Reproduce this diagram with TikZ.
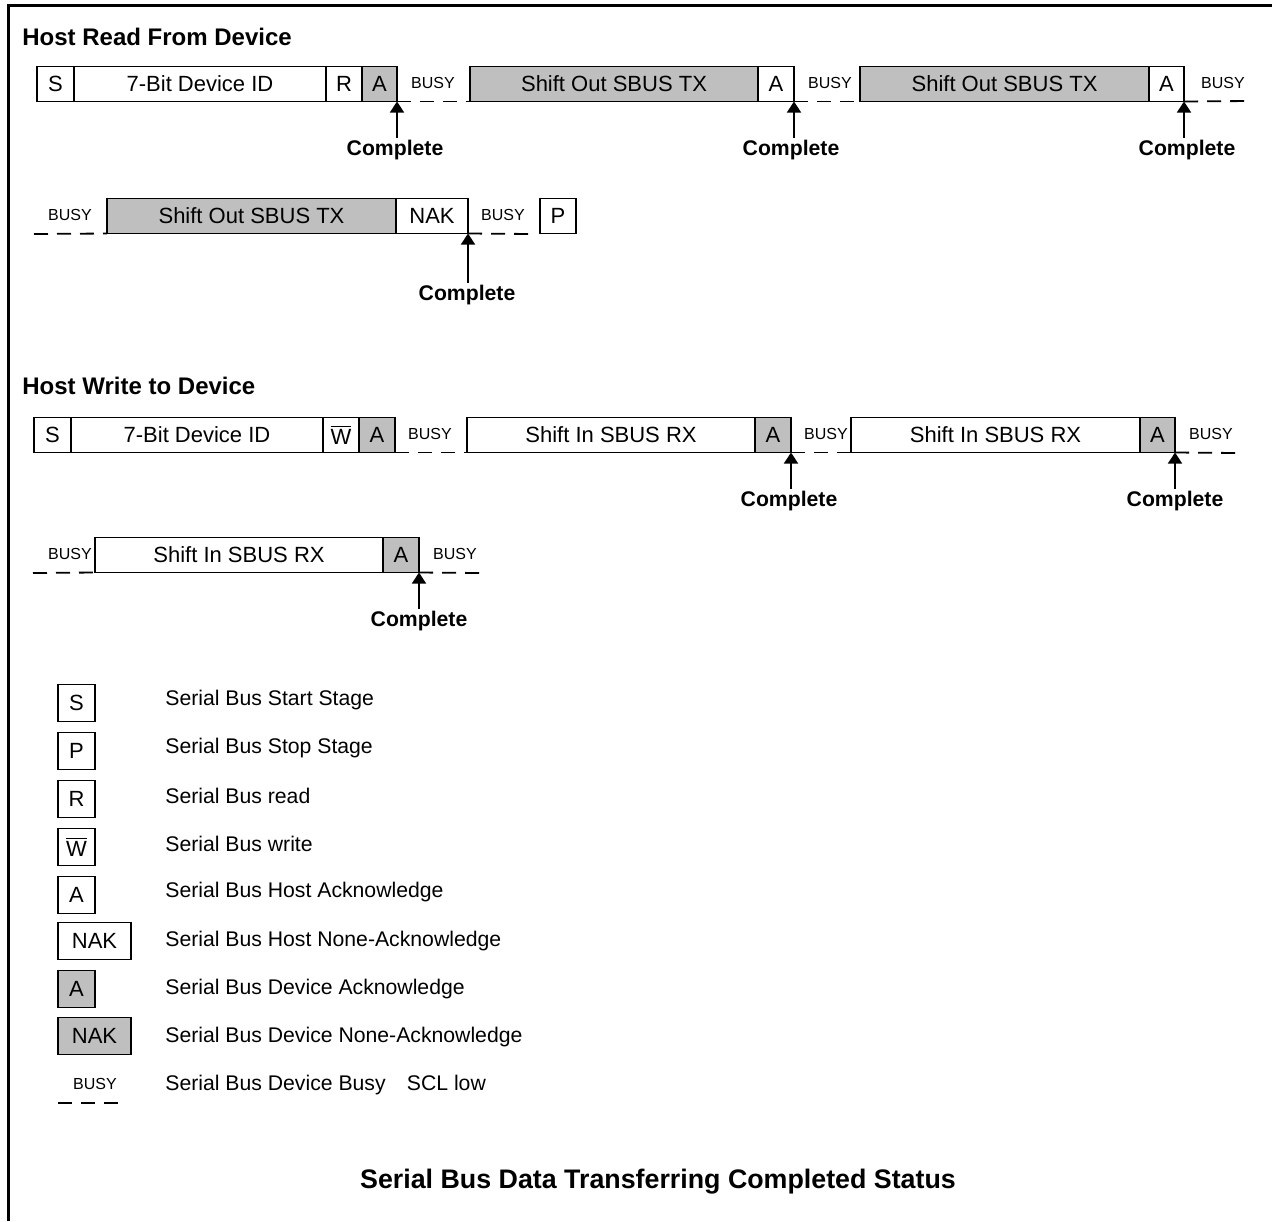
\documentclass[tikz,border=0pt]{standalone}
\usepackage{fontspec}
\setmainfont{Liberation Sans}
\usetikzlibrary{positioning,arrows.meta}

\begin{document}
\begin{tikzpicture}[x=0.5pt,y=-0.5pt,
  seg/.style={draw,line width=0.9pt,minimum height=17.5pt,inner sep=0pt,outer sep=0pt,
    font=\fontsize{11}{12}\selectfont},
  hostseg/.style={seg,fill=white},
  devseg/.style={seg,fill=black!25},
  busy/.style={font=\fontsize{8}{9}\selectfont,inner sep=0pt},
  busyline/.style={dash pattern=on 7pt off 4.5pt,line width=0.9pt},
  done/.style={font=\bfseries\fontsize{10.6}{12}\selectfont,inner sep=1pt},
  upto/.style={-{Triangle[length=5.5pt,width=7pt]},line width=0.8pt},
  head/.style={font=\bfseries\fontsize{12}{14}\selectfont,anchor=west,inner sep=0pt},
  legtext/.style={font=\fontsize{10.6}{12}\selectfont,anchor=west,inner sep=0pt}]
  \useasboundingbox (0,0) rectangle (1272,1221);
  \draw[line width=1.5pt] (8,1221) -- (8,5) -- (1272,5);

  % host read
  \node[head] (rdhead) at (22,37) {Host Read From Device};
  \node[hostseg,minimum width=18.5pt,anchor=west] (r1s) at (37,84) {S};
  \node[hostseg,minimum width=126pt,right=0pt of r1s] (r1id) {7-Bit Device ID};
  \node[hostseg,minimum width=18pt,right=0pt of r1id] (r1r) {R};
  \node[devseg,minimum width=17.5pt,right=0pt of r1r] (r1a) {A};
  \node[busy] (r1b1) at (433,83) {BUSY};
  \node[devseg,minimum width=144pt,anchor=west] (r1tx1) at (470,84) {Shift Out SBUS TX};
  \node[hostseg,minimum width=18pt,right=0pt of r1tx1] (r1a1) {A};
  \node[busy] (r1b2) at (830,83) {BUSY};
  \node[devseg,minimum width=144.5pt,anchor=west] (r1tx2) at (860,84) {Shift Out SBUS TX};
  \node[hostseg,minimum width=17.5pt,right=0pt of r1tx2] (r1a2) {A};
  \node[busy] (r1b3) at (1223,83) {BUSY};
  \coordinate (r1end) at (1250,101);
  \draw[busyline] (r1a.south east) -- (r1tx1.south west);
  \draw[busyline] (r1a1.south east) -- (r1tx2.south west);
  \draw[busyline] (r1a2.south east) -- (r1end);
  \node[done] (r1c1) at (395,150) {Complete};
  \node[done] (r1c2) at (791,150) {Complete};
  \node[done] (r1c3) at (1187,150) {Complete};
  \draw[upto] (r1a.south east |- r1c1.north) -- (r1a.south east);
  \draw[upto] (r1a1.south east |- r1c2.north) -- (r1a1.south east);
  \draw[upto] (r1a2.south east |- r1c3.north) -- (r1a2.south east);

  \coordinate (r2start) at (34,234);
  \node[busy] (r2b1) at (70,215) {BUSY};
  \node[devseg,minimum width=144.5pt,anchor=west] (r2tx) at (107,216) {Shift Out SBUS TX};
  \node[hostseg,minimum width=36pt,right=0pt of r2tx] (r2nak) {NAK};
  \node[busy] (r2b2) at (503,215) {BUSY};
  \coordinate (r2stop) at (531,234);
  \node[hostseg,minimum width=18pt,anchor=west] (r2p) at (540,216) {P};
  \draw[busyline] (r2start) -- (r2tx.south west);
  \draw[busyline] (r2nak.south east) -- (r2stop);
  \node[done] (r2c) at (467,295) {Complete};
  \draw[upto] (r2nak.south east |- r2c.north) -- (r2nak.south east);

  % host write
  \node[head] (wrhead) at (22,386) {Host Write to Device};
  \node[hostseg,minimum width=18.5pt,anchor=west] (r3s) at (34,435) {S};
  \node[hostseg,minimum width=126pt,right=0pt of r3s] (r3id) {7-Bit Device ID};
  \node[hostseg,minimum width=18pt,right=0pt of r3id] (r3w) {$\overline{\hbox{W}}$};
  \node[devseg,minimum width=18pt,right=0pt of r3w] (r3a) {A};
  \node[busy] (r3b1) at (430,434) {BUSY};
  \node[hostseg,minimum width=144pt,anchor=west] (r3rx1) at (467,435) {Shift In SBUS RX};
  \node[devseg,minimum width=18pt,right=0pt of r3rx1] (r3a1) {A};
  \node[busy] (r3b2) at (826,434) {BUSY};
  \node[hostseg,minimum width=144.5pt,anchor=west] (r3rx2) at (851,435) {Shift In SBUS RX};
  \node[devseg,minimum width=17.5pt,right=0pt of r3rx2] (r3a2) {A};
  \node[busy] (r3b3) at (1211,434) {BUSY};
  \coordinate (r3end) at (1237,453);
  \draw[busyline] (r3a.south east) -- (r3rx1.south west);
  \draw[busyline] (r3a1.south east) -- (r3rx2.south west);
  \draw[busyline] (r3a2.south east) -- (r3end);
  \node[done] (r3c1) at (789,501) {Complete};
  \node[done] (r3c2) at (1175,501) {Complete};
  \draw[upto] (r3a1.south east |- r3c1.north) -- (r3a1.south east);
  \draw[upto] (r3a2.south east |- r3c2.north) -- (r3a2.south east);

  \coordinate (r4start) at (33,573);
  \node[busy] (r4b1) at (70,554) {BUSY};
  \node[hostseg,minimum width=144pt,anchor=west] (r4rx) at (95,555) {Shift In SBUS RX};
  \node[devseg,minimum width=18pt,right=0pt of r4rx] (r4a) {A};
  \node[busy] (r4b2) at (455,554) {BUSY};
  \coordinate (r4end) at (480,573);
  \draw[busyline] (r4start) -- (r4rx.south west);
  \draw[busyline] (r4a.south east) -- (r4end);
  \node[done] (r4c) at (419,621) {Complete};
  \draw[upto] (r4a.south east |- r4c.north) -- (r4a.south east);

  % legend
  \node[hostseg,minimum width=18.5pt,minimum height=18.5pt,anchor=west] (ks) at (58,703) {S};
  \node[hostseg,minimum width=18.5pt,minimum height=18.5pt,anchor=west] (kp) at (58,751) {P};
  \node[hostseg,minimum width=18.5pt,minimum height=18.5pt,anchor=west] (kr) at (58,799) {R};
  \node[hostseg,minimum width=18.5pt,minimum height=18.5pt,anchor=west] (kw) at (58,847) {$\overline{\hbox{W}}$};
  \node[hostseg,minimum width=18.5pt,minimum height=18.5pt,anchor=west] (ka) at (58,895) {A};
  \node[hostseg,minimum width=36.5pt,minimum height=18.5pt,anchor=west] (kn) at (58,941) {NAK};
  \node[devseg,minimum width=18.5pt,minimum height=18.5pt,anchor=west] (kda) at (58,989) {A};
  \node[devseg,minimum width=36.5pt,minimum height=18.5pt,anchor=west] (kdn) at (58,1036) {NAK};
  \node[busy] (kb) at (95,1084) {BUSY};
  \coordinate (kbl) at (58,1103);
  \coordinate (kbr) at (118,1103);
  \draw[busyline] (kbl) -- (kbr);

  \node[legtext] (ts) at (165,700) {Serial Bus Start Stage};
  \node[legtext] (tp) at (165,748) {Serial Bus Stop Stage};
  \node[legtext] (tr) at (165,796) {Serial Bus read};
  \node[legtext] (tw) at (165,844) {Serial Bus write};
  \node[legtext] (ta) at (165,892) {Serial Bus Host Acknowledge};
  \node[legtext] (tn) at (165,941) {Serial Bus Host None-Acknowledge};
  \node[legtext] (tda) at (165,989) {Serial Bus Device Acknowledge};
  \node[legtext] (tdn) at (165,1037) {Serial Bus Device None-Acknowledge};
  \node[legtext] (tb) at (165,1085) {Serial Bus Device Busy\quad SCL low};

  \node[font=\bfseries\fontsize{13.4}{15}\selectfont] (title) at (658,1182) {Serial Bus Data Transferring Completed Status};
\end{tikzpicture}
\end{document}
